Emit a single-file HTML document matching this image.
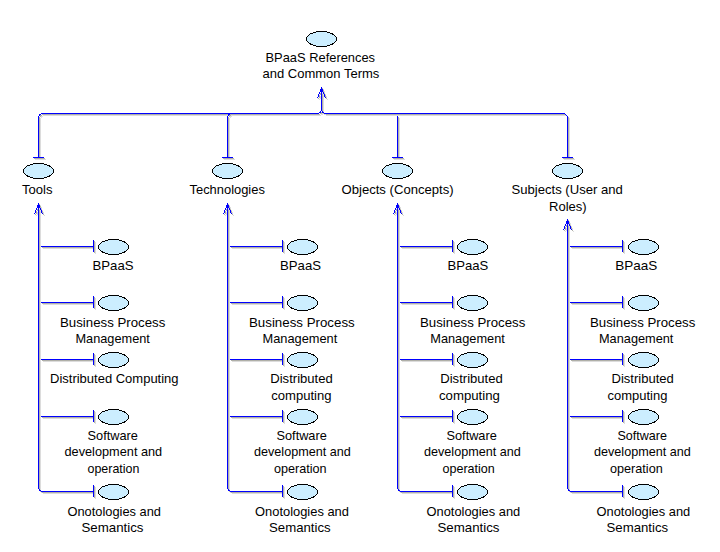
<!DOCTYPE html><html><head><meta charset="utf-8"><style>html,body{margin:0;padding:0;background:#fff;width:720px;height:552px;overflow:hidden}svg{display:block}</style></head><body>
<svg width="720" height="552" viewBox="0 0 720 552">
<rect width="720" height="552" fill="#fff"/>
<g shape-rendering="crispEdges">
<rect x="42" y="114" width="278" height="1" fill="#b0b0a8"/>
<rect x="43" y="115" width="278" height="1" fill="#dcdcdc"/>
<rect x="325" y="114" width="241" height="1" fill="#b0b0a8"/>
<rect x="326" y="115" width="241" height="1" fill="#dcdcdc"/>
<rect x="41" y="115" width="1" height="1" fill="#b0b0a8"/>
<rect x="42" y="116" width="1" height="1" fill="#dcdcdc"/>
<rect x="40" y="115" width="1" height="1" fill="#b0b0a8"/>
<rect x="41" y="116" width="1" height="1" fill="#dcdcdc"/>
<rect x="40" y="116" width="1" height="1" fill="#b0b0a8"/>
<rect x="41" y="117" width="1" height="1" fill="#dcdcdc"/>
<rect x="229" y="115" width="1" height="1" fill="#b0b0a8"/>
<rect x="230" y="116" width="1" height="1" fill="#dcdcdc"/>
<rect x="230" y="115" width="1" height="1" fill="#b0b0a8"/>
<rect x="231" y="116" width="1" height="1" fill="#dcdcdc"/>
<rect x="229" y="116" width="1" height="1" fill="#b0b0a8"/>
<rect x="230" y="117" width="1" height="1" fill="#dcdcdc"/>
<rect x="566" y="115" width="1" height="1" fill="#b0b0a8"/>
<rect x="567" y="116" width="1" height="1" fill="#dcdcdc"/>
<rect x="567" y="116" width="1" height="1" fill="#b0b0a8"/>
<rect x="568" y="117" width="1" height="1" fill="#dcdcdc"/>
<rect x="320" y="113" width="1" height="1" fill="#b0b0a8"/>
<rect x="321" y="114" width="1" height="1" fill="#dcdcdc"/>
<rect x="321" y="113" width="1" height="1" fill="#b0b0a8"/>
<rect x="322" y="114" width="1" height="1" fill="#dcdcdc"/>
<rect x="321" y="112" width="1" height="1" fill="#b0b0a8"/>
<rect x="322" y="113" width="1" height="1" fill="#dcdcdc"/>
<rect x="324" y="113" width="1" height="1" fill="#b0b0a8"/>
<rect x="325" y="114" width="1" height="1" fill="#dcdcdc"/>
<rect x="323" y="113" width="1" height="1" fill="#b0b0a8"/>
<rect x="324" y="114" width="1" height="1" fill="#dcdcdc"/>
<rect x="323" y="112" width="1" height="1" fill="#b0b0a8"/>
<rect x="324" y="113" width="1" height="1" fill="#dcdcdc"/>
<rect x="39" y="117" width="1" height="41" fill="#b0b0a8"/>
<rect x="40" y="118" width="1" height="41" fill="#dcdcdc"/>
<rect x="34" y="158" width="11" height="1" fill="#b0b0a8"/>
<rect x="35" y="159" width="11" height="1" fill="#dcdcdc"/>
<rect x="228" y="117" width="1" height="41" fill="#b0b0a8"/>
<rect x="229" y="118" width="1" height="41" fill="#dcdcdc"/>
<rect x="223" y="158" width="11" height="1" fill="#b0b0a8"/>
<rect x="224" y="159" width="11" height="1" fill="#dcdcdc"/>
<rect x="398" y="117" width="1" height="41" fill="#b0b0a8"/>
<rect x="399" y="118" width="1" height="41" fill="#dcdcdc"/>
<rect x="393" y="158" width="11" height="1" fill="#b0b0a8"/>
<rect x="394" y="159" width="11" height="1" fill="#dcdcdc"/>
<rect x="568" y="117" width="1" height="41" fill="#b0b0a8"/>
<rect x="569" y="118" width="1" height="41" fill="#dcdcdc"/>
<rect x="563" y="158" width="11" height="1" fill="#b0b0a8"/>
<rect x="564" y="159" width="11" height="1" fill="#dcdcdc"/>
<rect x="322" y="89" width="1" height="23" fill="#b0b0a8"/>
<rect x="323" y="90" width="1" height="23" fill="#dcdcdc"/>
<rect x="322" y="88" width="1" height="1" fill="#b0b0a8"/>
<rect x="323" y="89" width="1" height="1" fill="#dcdcdc"/>
<rect x="322" y="89" width="1" height="1" fill="#b0b0a8"/>
<rect x="323" y="90" width="1" height="1" fill="#dcdcdc"/>
<rect x="321" y="90" width="1" height="1" fill="#b0b0a8"/>
<rect x="322" y="91" width="1" height="1" fill="#dcdcdc"/>
<rect x="322" y="90" width="1" height="1" fill="#b0b0a8"/>
<rect x="323" y="91" width="1" height="1" fill="#dcdcdc"/>
<rect x="323" y="90" width="1" height="1" fill="#b0b0a8"/>
<rect x="324" y="91" width="1" height="1" fill="#dcdcdc"/>
<rect x="321" y="91" width="1" height="1" fill="#b0b0a8"/>
<rect x="322" y="92" width="1" height="1" fill="#dcdcdc"/>
<rect x="323" y="91" width="1" height="1" fill="#b0b0a8"/>
<rect x="324" y="92" width="1" height="1" fill="#dcdcdc"/>
<rect x="321" y="92" width="1" height="1" fill="#b0b0a8"/>
<rect x="322" y="93" width="1" height="1" fill="#dcdcdc"/>
<rect x="323" y="92" width="1" height="1" fill="#b0b0a8"/>
<rect x="324" y="93" width="1" height="1" fill="#dcdcdc"/>
<rect x="320" y="93" width="1" height="1" fill="#b0b0a8"/>
<rect x="321" y="94" width="1" height="1" fill="#dcdcdc"/>
<rect x="324" y="93" width="1" height="1" fill="#b0b0a8"/>
<rect x="325" y="94" width="1" height="1" fill="#dcdcdc"/>
<rect x="320" y="94" width="1" height="1" fill="#b0b0a8"/>
<rect x="321" y="95" width="1" height="1" fill="#dcdcdc"/>
<rect x="324" y="94" width="1" height="1" fill="#b0b0a8"/>
<rect x="325" y="95" width="1" height="1" fill="#dcdcdc"/>
<rect x="319" y="95" width="1" height="1" fill="#b0b0a8"/>
<rect x="320" y="96" width="1" height="1" fill="#dcdcdc"/>
<rect x="325" y="95" width="1" height="1" fill="#b0b0a8"/>
<rect x="326" y="96" width="1" height="1" fill="#dcdcdc"/>
<rect x="319" y="96" width="1" height="1" fill="#b0b0a8"/>
<rect x="320" y="97" width="1" height="1" fill="#dcdcdc"/>
<rect x="325" y="96" width="1" height="1" fill="#b0b0a8"/>
<rect x="326" y="97" width="1" height="1" fill="#dcdcdc"/>
<rect x="319" y="97" width="1" height="1" fill="#b0b0a8"/>
<rect x="320" y="98" width="1" height="1" fill="#dcdcdc"/>
<rect x="325" y="97" width="1" height="1" fill="#b0b0a8"/>
<rect x="326" y="98" width="1" height="1" fill="#dcdcdc"/>
<rect x="318" y="98" width="1" height="1" fill="#b0b0a8"/>
<rect x="319" y="99" width="1" height="1" fill="#dcdcdc"/>
<rect x="326" y="98" width="1" height="1" fill="#b0b0a8"/>
<rect x="327" y="99" width="1" height="1" fill="#dcdcdc"/>
<rect x="39" y="205" width="1" height="285" fill="#b0b0a8"/>
<rect x="40" y="206" width="1" height="285" fill="#dcdcdc"/>
<rect x="39" y="204" width="1" height="1" fill="#b0b0a8"/>
<rect x="40" y="205" width="1" height="1" fill="#dcdcdc"/>
<rect x="39" y="205" width="1" height="1" fill="#b0b0a8"/>
<rect x="40" y="206" width="1" height="1" fill="#dcdcdc"/>
<rect x="38" y="206" width="1" height="1" fill="#b0b0a8"/>
<rect x="39" y="207" width="1" height="1" fill="#dcdcdc"/>
<rect x="39" y="206" width="1" height="1" fill="#b0b0a8"/>
<rect x="40" y="207" width="1" height="1" fill="#dcdcdc"/>
<rect x="40" y="206" width="1" height="1" fill="#b0b0a8"/>
<rect x="41" y="207" width="1" height="1" fill="#dcdcdc"/>
<rect x="38" y="207" width="1" height="1" fill="#b0b0a8"/>
<rect x="39" y="208" width="1" height="1" fill="#dcdcdc"/>
<rect x="40" y="207" width="1" height="1" fill="#b0b0a8"/>
<rect x="41" y="208" width="1" height="1" fill="#dcdcdc"/>
<rect x="38" y="208" width="1" height="1" fill="#b0b0a8"/>
<rect x="39" y="209" width="1" height="1" fill="#dcdcdc"/>
<rect x="40" y="208" width="1" height="1" fill="#b0b0a8"/>
<rect x="41" y="209" width="1" height="1" fill="#dcdcdc"/>
<rect x="37" y="209" width="1" height="1" fill="#b0b0a8"/>
<rect x="38" y="210" width="1" height="1" fill="#dcdcdc"/>
<rect x="41" y="209" width="1" height="1" fill="#b0b0a8"/>
<rect x="42" y="210" width="1" height="1" fill="#dcdcdc"/>
<rect x="37" y="210" width="1" height="1" fill="#b0b0a8"/>
<rect x="38" y="211" width="1" height="1" fill="#dcdcdc"/>
<rect x="41" y="210" width="1" height="1" fill="#b0b0a8"/>
<rect x="42" y="211" width="1" height="1" fill="#dcdcdc"/>
<rect x="36" y="211" width="1" height="1" fill="#b0b0a8"/>
<rect x="37" y="212" width="1" height="1" fill="#dcdcdc"/>
<rect x="42" y="211" width="1" height="1" fill="#b0b0a8"/>
<rect x="43" y="212" width="1" height="1" fill="#dcdcdc"/>
<rect x="36" y="212" width="1" height="1" fill="#b0b0a8"/>
<rect x="37" y="213" width="1" height="1" fill="#dcdcdc"/>
<rect x="42" y="212" width="1" height="1" fill="#b0b0a8"/>
<rect x="43" y="213" width="1" height="1" fill="#dcdcdc"/>
<rect x="36" y="213" width="1" height="1" fill="#b0b0a8"/>
<rect x="37" y="214" width="1" height="1" fill="#dcdcdc"/>
<rect x="42" y="213" width="1" height="1" fill="#b0b0a8"/>
<rect x="43" y="214" width="1" height="1" fill="#dcdcdc"/>
<rect x="35" y="214" width="1" height="1" fill="#b0b0a8"/>
<rect x="36" y="215" width="1" height="1" fill="#dcdcdc"/>
<rect x="43" y="214" width="1" height="1" fill="#b0b0a8"/>
<rect x="44" y="215" width="1" height="1" fill="#dcdcdc"/>
<rect x="40" y="490" width="1" height="1" fill="#b0b0a8"/>
<rect x="41" y="491" width="1" height="1" fill="#dcdcdc"/>
<rect x="40" y="491" width="1" height="1" fill="#b0b0a8"/>
<rect x="41" y="492" width="1" height="1" fill="#dcdcdc"/>
<rect x="41" y="491" width="1" height="1" fill="#b0b0a8"/>
<rect x="42" y="492" width="1" height="1" fill="#dcdcdc"/>
<rect x="42" y="247" width="53" height="1" fill="#b0b0a8"/>
<rect x="43" y="248" width="53" height="1" fill="#dcdcdc"/>
<rect x="94" y="241" width="1" height="12" fill="#b0b0a8"/>
<rect x="95" y="242" width="1" height="12" fill="#dcdcdc"/>
<rect x="42" y="303" width="53" height="1" fill="#b0b0a8"/>
<rect x="43" y="304" width="53" height="1" fill="#dcdcdc"/>
<rect x="94" y="297" width="1" height="12" fill="#b0b0a8"/>
<rect x="95" y="298" width="1" height="12" fill="#dcdcdc"/>
<rect x="42" y="360" width="53" height="1" fill="#b0b0a8"/>
<rect x="43" y="361" width="53" height="1" fill="#dcdcdc"/>
<rect x="94" y="354" width="1" height="12" fill="#b0b0a8"/>
<rect x="95" y="355" width="1" height="12" fill="#dcdcdc"/>
<rect x="42" y="417" width="53" height="1" fill="#b0b0a8"/>
<rect x="43" y="418" width="53" height="1" fill="#dcdcdc"/>
<rect x="94" y="411" width="1" height="12" fill="#b0b0a8"/>
<rect x="95" y="412" width="1" height="12" fill="#dcdcdc"/>
<rect x="42" y="492" width="53" height="1" fill="#b0b0a8"/>
<rect x="43" y="493" width="53" height="1" fill="#dcdcdc"/>
<rect x="94" y="486" width="1" height="12" fill="#b0b0a8"/>
<rect x="95" y="487" width="1" height="12" fill="#dcdcdc"/>
<rect x="228" y="205" width="1" height="285" fill="#b0b0a8"/>
<rect x="229" y="206" width="1" height="285" fill="#dcdcdc"/>
<rect x="228" y="204" width="1" height="1" fill="#b0b0a8"/>
<rect x="229" y="205" width="1" height="1" fill="#dcdcdc"/>
<rect x="228" y="205" width="1" height="1" fill="#b0b0a8"/>
<rect x="229" y="206" width="1" height="1" fill="#dcdcdc"/>
<rect x="227" y="206" width="1" height="1" fill="#b0b0a8"/>
<rect x="228" y="207" width="1" height="1" fill="#dcdcdc"/>
<rect x="228" y="206" width="1" height="1" fill="#b0b0a8"/>
<rect x="229" y="207" width="1" height="1" fill="#dcdcdc"/>
<rect x="229" y="206" width="1" height="1" fill="#b0b0a8"/>
<rect x="230" y="207" width="1" height="1" fill="#dcdcdc"/>
<rect x="227" y="207" width="1" height="1" fill="#b0b0a8"/>
<rect x="228" y="208" width="1" height="1" fill="#dcdcdc"/>
<rect x="229" y="207" width="1" height="1" fill="#b0b0a8"/>
<rect x="230" y="208" width="1" height="1" fill="#dcdcdc"/>
<rect x="227" y="208" width="1" height="1" fill="#b0b0a8"/>
<rect x="228" y="209" width="1" height="1" fill="#dcdcdc"/>
<rect x="229" y="208" width="1" height="1" fill="#b0b0a8"/>
<rect x="230" y="209" width="1" height="1" fill="#dcdcdc"/>
<rect x="226" y="209" width="1" height="1" fill="#b0b0a8"/>
<rect x="227" y="210" width="1" height="1" fill="#dcdcdc"/>
<rect x="230" y="209" width="1" height="1" fill="#b0b0a8"/>
<rect x="231" y="210" width="1" height="1" fill="#dcdcdc"/>
<rect x="226" y="210" width="1" height="1" fill="#b0b0a8"/>
<rect x="227" y="211" width="1" height="1" fill="#dcdcdc"/>
<rect x="230" y="210" width="1" height="1" fill="#b0b0a8"/>
<rect x="231" y="211" width="1" height="1" fill="#dcdcdc"/>
<rect x="225" y="211" width="1" height="1" fill="#b0b0a8"/>
<rect x="226" y="212" width="1" height="1" fill="#dcdcdc"/>
<rect x="231" y="211" width="1" height="1" fill="#b0b0a8"/>
<rect x="232" y="212" width="1" height="1" fill="#dcdcdc"/>
<rect x="225" y="212" width="1" height="1" fill="#b0b0a8"/>
<rect x="226" y="213" width="1" height="1" fill="#dcdcdc"/>
<rect x="231" y="212" width="1" height="1" fill="#b0b0a8"/>
<rect x="232" y="213" width="1" height="1" fill="#dcdcdc"/>
<rect x="225" y="213" width="1" height="1" fill="#b0b0a8"/>
<rect x="226" y="214" width="1" height="1" fill="#dcdcdc"/>
<rect x="231" y="213" width="1" height="1" fill="#b0b0a8"/>
<rect x="232" y="214" width="1" height="1" fill="#dcdcdc"/>
<rect x="224" y="214" width="1" height="1" fill="#b0b0a8"/>
<rect x="225" y="215" width="1" height="1" fill="#dcdcdc"/>
<rect x="232" y="214" width="1" height="1" fill="#b0b0a8"/>
<rect x="233" y="215" width="1" height="1" fill="#dcdcdc"/>
<rect x="229" y="490" width="1" height="1" fill="#b0b0a8"/>
<rect x="230" y="491" width="1" height="1" fill="#dcdcdc"/>
<rect x="229" y="491" width="1" height="1" fill="#b0b0a8"/>
<rect x="230" y="492" width="1" height="1" fill="#dcdcdc"/>
<rect x="230" y="491" width="1" height="1" fill="#b0b0a8"/>
<rect x="231" y="492" width="1" height="1" fill="#dcdcdc"/>
<rect x="231" y="247" width="53" height="1" fill="#b0b0a8"/>
<rect x="232" y="248" width="53" height="1" fill="#dcdcdc"/>
<rect x="283" y="241" width="1" height="12" fill="#b0b0a8"/>
<rect x="284" y="242" width="1" height="12" fill="#dcdcdc"/>
<rect x="231" y="303" width="53" height="1" fill="#b0b0a8"/>
<rect x="232" y="304" width="53" height="1" fill="#dcdcdc"/>
<rect x="283" y="297" width="1" height="12" fill="#b0b0a8"/>
<rect x="284" y="298" width="1" height="12" fill="#dcdcdc"/>
<rect x="231" y="360" width="53" height="1" fill="#b0b0a8"/>
<rect x="232" y="361" width="53" height="1" fill="#dcdcdc"/>
<rect x="283" y="354" width="1" height="12" fill="#b0b0a8"/>
<rect x="284" y="355" width="1" height="12" fill="#dcdcdc"/>
<rect x="231" y="417" width="53" height="1" fill="#b0b0a8"/>
<rect x="232" y="418" width="53" height="1" fill="#dcdcdc"/>
<rect x="283" y="411" width="1" height="12" fill="#b0b0a8"/>
<rect x="284" y="412" width="1" height="12" fill="#dcdcdc"/>
<rect x="231" y="492" width="53" height="1" fill="#b0b0a8"/>
<rect x="232" y="493" width="53" height="1" fill="#dcdcdc"/>
<rect x="283" y="486" width="1" height="12" fill="#b0b0a8"/>
<rect x="284" y="487" width="1" height="12" fill="#dcdcdc"/>
<rect x="398" y="205" width="1" height="285" fill="#b0b0a8"/>
<rect x="399" y="206" width="1" height="285" fill="#dcdcdc"/>
<rect x="398" y="204" width="1" height="1" fill="#b0b0a8"/>
<rect x="399" y="205" width="1" height="1" fill="#dcdcdc"/>
<rect x="398" y="205" width="1" height="1" fill="#b0b0a8"/>
<rect x="399" y="206" width="1" height="1" fill="#dcdcdc"/>
<rect x="397" y="206" width="1" height="1" fill="#b0b0a8"/>
<rect x="398" y="207" width="1" height="1" fill="#dcdcdc"/>
<rect x="398" y="206" width="1" height="1" fill="#b0b0a8"/>
<rect x="399" y="207" width="1" height="1" fill="#dcdcdc"/>
<rect x="399" y="206" width="1" height="1" fill="#b0b0a8"/>
<rect x="400" y="207" width="1" height="1" fill="#dcdcdc"/>
<rect x="397" y="207" width="1" height="1" fill="#b0b0a8"/>
<rect x="398" y="208" width="1" height="1" fill="#dcdcdc"/>
<rect x="399" y="207" width="1" height="1" fill="#b0b0a8"/>
<rect x="400" y="208" width="1" height="1" fill="#dcdcdc"/>
<rect x="397" y="208" width="1" height="1" fill="#b0b0a8"/>
<rect x="398" y="209" width="1" height="1" fill="#dcdcdc"/>
<rect x="399" y="208" width="1" height="1" fill="#b0b0a8"/>
<rect x="400" y="209" width="1" height="1" fill="#dcdcdc"/>
<rect x="396" y="209" width="1" height="1" fill="#b0b0a8"/>
<rect x="397" y="210" width="1" height="1" fill="#dcdcdc"/>
<rect x="400" y="209" width="1" height="1" fill="#b0b0a8"/>
<rect x="401" y="210" width="1" height="1" fill="#dcdcdc"/>
<rect x="396" y="210" width="1" height="1" fill="#b0b0a8"/>
<rect x="397" y="211" width="1" height="1" fill="#dcdcdc"/>
<rect x="400" y="210" width="1" height="1" fill="#b0b0a8"/>
<rect x="401" y="211" width="1" height="1" fill="#dcdcdc"/>
<rect x="395" y="211" width="1" height="1" fill="#b0b0a8"/>
<rect x="396" y="212" width="1" height="1" fill="#dcdcdc"/>
<rect x="401" y="211" width="1" height="1" fill="#b0b0a8"/>
<rect x="402" y="212" width="1" height="1" fill="#dcdcdc"/>
<rect x="395" y="212" width="1" height="1" fill="#b0b0a8"/>
<rect x="396" y="213" width="1" height="1" fill="#dcdcdc"/>
<rect x="401" y="212" width="1" height="1" fill="#b0b0a8"/>
<rect x="402" y="213" width="1" height="1" fill="#dcdcdc"/>
<rect x="395" y="213" width="1" height="1" fill="#b0b0a8"/>
<rect x="396" y="214" width="1" height="1" fill="#dcdcdc"/>
<rect x="401" y="213" width="1" height="1" fill="#b0b0a8"/>
<rect x="402" y="214" width="1" height="1" fill="#dcdcdc"/>
<rect x="394" y="214" width="1" height="1" fill="#b0b0a8"/>
<rect x="395" y="215" width="1" height="1" fill="#dcdcdc"/>
<rect x="402" y="214" width="1" height="1" fill="#b0b0a8"/>
<rect x="403" y="215" width="1" height="1" fill="#dcdcdc"/>
<rect x="399" y="490" width="1" height="1" fill="#b0b0a8"/>
<rect x="400" y="491" width="1" height="1" fill="#dcdcdc"/>
<rect x="399" y="491" width="1" height="1" fill="#b0b0a8"/>
<rect x="400" y="492" width="1" height="1" fill="#dcdcdc"/>
<rect x="400" y="491" width="1" height="1" fill="#b0b0a8"/>
<rect x="401" y="492" width="1" height="1" fill="#dcdcdc"/>
<rect x="401" y="247" width="53" height="1" fill="#b0b0a8"/>
<rect x="402" y="248" width="53" height="1" fill="#dcdcdc"/>
<rect x="453" y="241" width="1" height="12" fill="#b0b0a8"/>
<rect x="454" y="242" width="1" height="12" fill="#dcdcdc"/>
<rect x="401" y="303" width="53" height="1" fill="#b0b0a8"/>
<rect x="402" y="304" width="53" height="1" fill="#dcdcdc"/>
<rect x="453" y="297" width="1" height="12" fill="#b0b0a8"/>
<rect x="454" y="298" width="1" height="12" fill="#dcdcdc"/>
<rect x="401" y="360" width="53" height="1" fill="#b0b0a8"/>
<rect x="402" y="361" width="53" height="1" fill="#dcdcdc"/>
<rect x="453" y="354" width="1" height="12" fill="#b0b0a8"/>
<rect x="454" y="355" width="1" height="12" fill="#dcdcdc"/>
<rect x="401" y="417" width="53" height="1" fill="#b0b0a8"/>
<rect x="402" y="418" width="53" height="1" fill="#dcdcdc"/>
<rect x="453" y="411" width="1" height="12" fill="#b0b0a8"/>
<rect x="454" y="412" width="1" height="12" fill="#dcdcdc"/>
<rect x="401" y="492" width="53" height="1" fill="#b0b0a8"/>
<rect x="402" y="493" width="53" height="1" fill="#dcdcdc"/>
<rect x="453" y="486" width="1" height="12" fill="#b0b0a8"/>
<rect x="454" y="487" width="1" height="12" fill="#dcdcdc"/>
<rect x="568" y="221" width="1" height="269" fill="#b0b0a8"/>
<rect x="569" y="222" width="1" height="269" fill="#dcdcdc"/>
<rect x="568" y="220" width="1" height="1" fill="#b0b0a8"/>
<rect x="569" y="221" width="1" height="1" fill="#dcdcdc"/>
<rect x="568" y="221" width="1" height="1" fill="#b0b0a8"/>
<rect x="569" y="222" width="1" height="1" fill="#dcdcdc"/>
<rect x="567" y="222" width="1" height="1" fill="#b0b0a8"/>
<rect x="568" y="223" width="1" height="1" fill="#dcdcdc"/>
<rect x="568" y="222" width="1" height="1" fill="#b0b0a8"/>
<rect x="569" y="223" width="1" height="1" fill="#dcdcdc"/>
<rect x="569" y="222" width="1" height="1" fill="#b0b0a8"/>
<rect x="570" y="223" width="1" height="1" fill="#dcdcdc"/>
<rect x="567" y="223" width="1" height="1" fill="#b0b0a8"/>
<rect x="568" y="224" width="1" height="1" fill="#dcdcdc"/>
<rect x="569" y="223" width="1" height="1" fill="#b0b0a8"/>
<rect x="570" y="224" width="1" height="1" fill="#dcdcdc"/>
<rect x="567" y="224" width="1" height="1" fill="#b0b0a8"/>
<rect x="568" y="225" width="1" height="1" fill="#dcdcdc"/>
<rect x="569" y="224" width="1" height="1" fill="#b0b0a8"/>
<rect x="570" y="225" width="1" height="1" fill="#dcdcdc"/>
<rect x="566" y="225" width="1" height="1" fill="#b0b0a8"/>
<rect x="567" y="226" width="1" height="1" fill="#dcdcdc"/>
<rect x="570" y="225" width="1" height="1" fill="#b0b0a8"/>
<rect x="571" y="226" width="1" height="1" fill="#dcdcdc"/>
<rect x="566" y="226" width="1" height="1" fill="#b0b0a8"/>
<rect x="567" y="227" width="1" height="1" fill="#dcdcdc"/>
<rect x="570" y="226" width="1" height="1" fill="#b0b0a8"/>
<rect x="571" y="227" width="1" height="1" fill="#dcdcdc"/>
<rect x="565" y="227" width="1" height="1" fill="#b0b0a8"/>
<rect x="566" y="228" width="1" height="1" fill="#dcdcdc"/>
<rect x="571" y="227" width="1" height="1" fill="#b0b0a8"/>
<rect x="572" y="228" width="1" height="1" fill="#dcdcdc"/>
<rect x="565" y="228" width="1" height="1" fill="#b0b0a8"/>
<rect x="566" y="229" width="1" height="1" fill="#dcdcdc"/>
<rect x="571" y="228" width="1" height="1" fill="#b0b0a8"/>
<rect x="572" y="229" width="1" height="1" fill="#dcdcdc"/>
<rect x="565" y="229" width="1" height="1" fill="#b0b0a8"/>
<rect x="566" y="230" width="1" height="1" fill="#dcdcdc"/>
<rect x="571" y="229" width="1" height="1" fill="#b0b0a8"/>
<rect x="572" y="230" width="1" height="1" fill="#dcdcdc"/>
<rect x="564" y="230" width="1" height="1" fill="#b0b0a8"/>
<rect x="565" y="231" width="1" height="1" fill="#dcdcdc"/>
<rect x="572" y="230" width="1" height="1" fill="#b0b0a8"/>
<rect x="573" y="231" width="1" height="1" fill="#dcdcdc"/>
<rect x="569" y="490" width="1" height="1" fill="#b0b0a8"/>
<rect x="570" y="491" width="1" height="1" fill="#dcdcdc"/>
<rect x="569" y="491" width="1" height="1" fill="#b0b0a8"/>
<rect x="570" y="492" width="1" height="1" fill="#dcdcdc"/>
<rect x="570" y="491" width="1" height="1" fill="#b0b0a8"/>
<rect x="571" y="492" width="1" height="1" fill="#dcdcdc"/>
<rect x="571" y="247" width="53" height="1" fill="#b0b0a8"/>
<rect x="572" y="248" width="53" height="1" fill="#dcdcdc"/>
<rect x="623" y="241" width="1" height="12" fill="#b0b0a8"/>
<rect x="624" y="242" width="1" height="12" fill="#dcdcdc"/>
<rect x="571" y="303" width="53" height="1" fill="#b0b0a8"/>
<rect x="572" y="304" width="53" height="1" fill="#dcdcdc"/>
<rect x="623" y="297" width="1" height="12" fill="#b0b0a8"/>
<rect x="624" y="298" width="1" height="12" fill="#dcdcdc"/>
<rect x="571" y="360" width="53" height="1" fill="#b0b0a8"/>
<rect x="572" y="361" width="53" height="1" fill="#dcdcdc"/>
<rect x="623" y="354" width="1" height="12" fill="#b0b0a8"/>
<rect x="624" y="355" width="1" height="12" fill="#dcdcdc"/>
<rect x="571" y="417" width="53" height="1" fill="#b0b0a8"/>
<rect x="572" y="418" width="53" height="1" fill="#dcdcdc"/>
<rect x="623" y="411" width="1" height="12" fill="#b0b0a8"/>
<rect x="624" y="412" width="1" height="12" fill="#dcdcdc"/>
<rect x="571" y="492" width="53" height="1" fill="#b0b0a8"/>
<rect x="572" y="493" width="53" height="1" fill="#dcdcdc"/>
<rect x="623" y="486" width="1" height="12" fill="#b0b0a8"/>
<rect x="624" y="487" width="1" height="12" fill="#dcdcdc"/>
<rect x="41" y="113" width="278" height="1" fill="#0000ff"/>
<rect x="324" y="113" width="241" height="1" fill="#0000ff"/>
<rect x="40" y="114" width="1" height="1" fill="#0000ff"/>
<rect x="39" y="114" width="1" height="1" fill="#0000ff"/>
<rect x="39" y="115" width="1" height="1" fill="#0000ff"/>
<rect x="228" y="114" width="1" height="1" fill="#0000ff"/>
<rect x="229" y="114" width="1" height="1" fill="#0000ff"/>
<rect x="228" y="115" width="1" height="1" fill="#0000ff"/>
<rect x="565" y="114" width="1" height="1" fill="#0000ff"/>
<rect x="566" y="115" width="1" height="1" fill="#0000ff"/>
<rect x="319" y="112" width="1" height="1" fill="#0000ff"/>
<rect x="320" y="112" width="1" height="1" fill="#0000ff"/>
<rect x="320" y="111" width="1" height="1" fill="#0000ff"/>
<rect x="323" y="112" width="1" height="1" fill="#0000ff"/>
<rect x="322" y="112" width="1" height="1" fill="#0000ff"/>
<rect x="322" y="111" width="1" height="1" fill="#0000ff"/>
<rect x="38" y="116" width="1" height="41" fill="#0000ff"/>
<rect x="33" y="157" width="11" height="1" fill="#0000ff"/>
<rect x="227" y="116" width="1" height="41" fill="#0000ff"/>
<rect x="222" y="157" width="11" height="1" fill="#0000ff"/>
<rect x="397" y="116" width="1" height="41" fill="#0000ff"/>
<rect x="392" y="157" width="11" height="1" fill="#0000ff"/>
<rect x="567" y="116" width="1" height="41" fill="#0000ff"/>
<rect x="562" y="157" width="11" height="1" fill="#0000ff"/>
<rect x="321" y="88" width="1" height="23" fill="#0000ff"/>
<rect x="321" y="87" width="1" height="1" fill="#0000ff"/>
<rect x="321" y="88" width="1" height="1" fill="#0000ff"/>
<rect x="320" y="89" width="1" height="1" fill="#0000ff"/>
<rect x="321" y="89" width="1" height="1" fill="#0000ff"/>
<rect x="322" y="89" width="1" height="1" fill="#0000ff"/>
<rect x="320" y="90" width="1" height="1" fill="#0000ff"/>
<rect x="322" y="90" width="1" height="1" fill="#0000ff"/>
<rect x="320" y="91" width="1" height="1" fill="#0000ff"/>
<rect x="322" y="91" width="1" height="1" fill="#0000ff"/>
<rect x="319" y="92" width="1" height="1" fill="#0000ff"/>
<rect x="323" y="92" width="1" height="1" fill="#0000ff"/>
<rect x="319" y="93" width="1" height="1" fill="#0000ff"/>
<rect x="323" y="93" width="1" height="1" fill="#0000ff"/>
<rect x="318" y="94" width="1" height="1" fill="#0000ff"/>
<rect x="324" y="94" width="1" height="1" fill="#0000ff"/>
<rect x="318" y="95" width="1" height="1" fill="#0000ff"/>
<rect x="324" y="95" width="1" height="1" fill="#0000ff"/>
<rect x="318" y="96" width="1" height="1" fill="#0000ff"/>
<rect x="324" y="96" width="1" height="1" fill="#0000ff"/>
<rect x="317" y="97" width="1" height="1" fill="#0000ff"/>
<rect x="325" y="97" width="1" height="1" fill="#0000ff"/>
<rect x="38" y="204" width="1" height="285" fill="#0000ff"/>
<rect x="38" y="203" width="1" height="1" fill="#0000ff"/>
<rect x="38" y="204" width="1" height="1" fill="#0000ff"/>
<rect x="37" y="205" width="1" height="1" fill="#0000ff"/>
<rect x="38" y="205" width="1" height="1" fill="#0000ff"/>
<rect x="39" y="205" width="1" height="1" fill="#0000ff"/>
<rect x="37" y="206" width="1" height="1" fill="#0000ff"/>
<rect x="39" y="206" width="1" height="1" fill="#0000ff"/>
<rect x="37" y="207" width="1" height="1" fill="#0000ff"/>
<rect x="39" y="207" width="1" height="1" fill="#0000ff"/>
<rect x="36" y="208" width="1" height="1" fill="#0000ff"/>
<rect x="40" y="208" width="1" height="1" fill="#0000ff"/>
<rect x="36" y="209" width="1" height="1" fill="#0000ff"/>
<rect x="40" y="209" width="1" height="1" fill="#0000ff"/>
<rect x="35" y="210" width="1" height="1" fill="#0000ff"/>
<rect x="41" y="210" width="1" height="1" fill="#0000ff"/>
<rect x="35" y="211" width="1" height="1" fill="#0000ff"/>
<rect x="41" y="211" width="1" height="1" fill="#0000ff"/>
<rect x="35" y="212" width="1" height="1" fill="#0000ff"/>
<rect x="41" y="212" width="1" height="1" fill="#0000ff"/>
<rect x="34" y="213" width="1" height="1" fill="#0000ff"/>
<rect x="42" y="213" width="1" height="1" fill="#0000ff"/>
<rect x="39" y="489" width="1" height="1" fill="#0000ff"/>
<rect x="39" y="490" width="1" height="1" fill="#0000ff"/>
<rect x="40" y="490" width="1" height="1" fill="#0000ff"/>
<rect x="41" y="246" width="53" height="1" fill="#0000ff"/>
<rect x="93" y="240" width="1" height="12" fill="#0000ff"/>
<rect x="41" y="302" width="53" height="1" fill="#0000ff"/>
<rect x="93" y="296" width="1" height="12" fill="#0000ff"/>
<rect x="41" y="359" width="53" height="1" fill="#0000ff"/>
<rect x="93" y="353" width="1" height="12" fill="#0000ff"/>
<rect x="41" y="416" width="53" height="1" fill="#0000ff"/>
<rect x="93" y="410" width="1" height="12" fill="#0000ff"/>
<rect x="41" y="491" width="53" height="1" fill="#0000ff"/>
<rect x="93" y="485" width="1" height="12" fill="#0000ff"/>
<rect x="227" y="204" width="1" height="285" fill="#0000ff"/>
<rect x="227" y="203" width="1" height="1" fill="#0000ff"/>
<rect x="227" y="204" width="1" height="1" fill="#0000ff"/>
<rect x="226" y="205" width="1" height="1" fill="#0000ff"/>
<rect x="227" y="205" width="1" height="1" fill="#0000ff"/>
<rect x="228" y="205" width="1" height="1" fill="#0000ff"/>
<rect x="226" y="206" width="1" height="1" fill="#0000ff"/>
<rect x="228" y="206" width="1" height="1" fill="#0000ff"/>
<rect x="226" y="207" width="1" height="1" fill="#0000ff"/>
<rect x="228" y="207" width="1" height="1" fill="#0000ff"/>
<rect x="225" y="208" width="1" height="1" fill="#0000ff"/>
<rect x="229" y="208" width="1" height="1" fill="#0000ff"/>
<rect x="225" y="209" width="1" height="1" fill="#0000ff"/>
<rect x="229" y="209" width="1" height="1" fill="#0000ff"/>
<rect x="224" y="210" width="1" height="1" fill="#0000ff"/>
<rect x="230" y="210" width="1" height="1" fill="#0000ff"/>
<rect x="224" y="211" width="1" height="1" fill="#0000ff"/>
<rect x="230" y="211" width="1" height="1" fill="#0000ff"/>
<rect x="224" y="212" width="1" height="1" fill="#0000ff"/>
<rect x="230" y="212" width="1" height="1" fill="#0000ff"/>
<rect x="223" y="213" width="1" height="1" fill="#0000ff"/>
<rect x="231" y="213" width="1" height="1" fill="#0000ff"/>
<rect x="228" y="489" width="1" height="1" fill="#0000ff"/>
<rect x="228" y="490" width="1" height="1" fill="#0000ff"/>
<rect x="229" y="490" width="1" height="1" fill="#0000ff"/>
<rect x="230" y="246" width="53" height="1" fill="#0000ff"/>
<rect x="282" y="240" width="1" height="12" fill="#0000ff"/>
<rect x="230" y="302" width="53" height="1" fill="#0000ff"/>
<rect x="282" y="296" width="1" height="12" fill="#0000ff"/>
<rect x="230" y="359" width="53" height="1" fill="#0000ff"/>
<rect x="282" y="353" width="1" height="12" fill="#0000ff"/>
<rect x="230" y="416" width="53" height="1" fill="#0000ff"/>
<rect x="282" y="410" width="1" height="12" fill="#0000ff"/>
<rect x="230" y="491" width="53" height="1" fill="#0000ff"/>
<rect x="282" y="485" width="1" height="12" fill="#0000ff"/>
<rect x="397" y="204" width="1" height="285" fill="#0000ff"/>
<rect x="397" y="203" width="1" height="1" fill="#0000ff"/>
<rect x="397" y="204" width="1" height="1" fill="#0000ff"/>
<rect x="396" y="205" width="1" height="1" fill="#0000ff"/>
<rect x="397" y="205" width="1" height="1" fill="#0000ff"/>
<rect x="398" y="205" width="1" height="1" fill="#0000ff"/>
<rect x="396" y="206" width="1" height="1" fill="#0000ff"/>
<rect x="398" y="206" width="1" height="1" fill="#0000ff"/>
<rect x="396" y="207" width="1" height="1" fill="#0000ff"/>
<rect x="398" y="207" width="1" height="1" fill="#0000ff"/>
<rect x="395" y="208" width="1" height="1" fill="#0000ff"/>
<rect x="399" y="208" width="1" height="1" fill="#0000ff"/>
<rect x="395" y="209" width="1" height="1" fill="#0000ff"/>
<rect x="399" y="209" width="1" height="1" fill="#0000ff"/>
<rect x="394" y="210" width="1" height="1" fill="#0000ff"/>
<rect x="400" y="210" width="1" height="1" fill="#0000ff"/>
<rect x="394" y="211" width="1" height="1" fill="#0000ff"/>
<rect x="400" y="211" width="1" height="1" fill="#0000ff"/>
<rect x="394" y="212" width="1" height="1" fill="#0000ff"/>
<rect x="400" y="212" width="1" height="1" fill="#0000ff"/>
<rect x="393" y="213" width="1" height="1" fill="#0000ff"/>
<rect x="401" y="213" width="1" height="1" fill="#0000ff"/>
<rect x="398" y="489" width="1" height="1" fill="#0000ff"/>
<rect x="398" y="490" width="1" height="1" fill="#0000ff"/>
<rect x="399" y="490" width="1" height="1" fill="#0000ff"/>
<rect x="400" y="246" width="53" height="1" fill="#0000ff"/>
<rect x="452" y="240" width="1" height="12" fill="#0000ff"/>
<rect x="400" y="302" width="53" height="1" fill="#0000ff"/>
<rect x="452" y="296" width="1" height="12" fill="#0000ff"/>
<rect x="400" y="359" width="53" height="1" fill="#0000ff"/>
<rect x="452" y="353" width="1" height="12" fill="#0000ff"/>
<rect x="400" y="416" width="53" height="1" fill="#0000ff"/>
<rect x="452" y="410" width="1" height="12" fill="#0000ff"/>
<rect x="400" y="491" width="53" height="1" fill="#0000ff"/>
<rect x="452" y="485" width="1" height="12" fill="#0000ff"/>
<rect x="567" y="220" width="1" height="269" fill="#0000ff"/>
<rect x="567" y="219" width="1" height="1" fill="#0000ff"/>
<rect x="567" y="220" width="1" height="1" fill="#0000ff"/>
<rect x="566" y="221" width="1" height="1" fill="#0000ff"/>
<rect x="567" y="221" width="1" height="1" fill="#0000ff"/>
<rect x="568" y="221" width="1" height="1" fill="#0000ff"/>
<rect x="566" y="222" width="1" height="1" fill="#0000ff"/>
<rect x="568" y="222" width="1" height="1" fill="#0000ff"/>
<rect x="566" y="223" width="1" height="1" fill="#0000ff"/>
<rect x="568" y="223" width="1" height="1" fill="#0000ff"/>
<rect x="565" y="224" width="1" height="1" fill="#0000ff"/>
<rect x="569" y="224" width="1" height="1" fill="#0000ff"/>
<rect x="565" y="225" width="1" height="1" fill="#0000ff"/>
<rect x="569" y="225" width="1" height="1" fill="#0000ff"/>
<rect x="564" y="226" width="1" height="1" fill="#0000ff"/>
<rect x="570" y="226" width="1" height="1" fill="#0000ff"/>
<rect x="564" y="227" width="1" height="1" fill="#0000ff"/>
<rect x="570" y="227" width="1" height="1" fill="#0000ff"/>
<rect x="564" y="228" width="1" height="1" fill="#0000ff"/>
<rect x="570" y="228" width="1" height="1" fill="#0000ff"/>
<rect x="563" y="229" width="1" height="1" fill="#0000ff"/>
<rect x="571" y="229" width="1" height="1" fill="#0000ff"/>
<rect x="568" y="489" width="1" height="1" fill="#0000ff"/>
<rect x="568" y="490" width="1" height="1" fill="#0000ff"/>
<rect x="569" y="490" width="1" height="1" fill="#0000ff"/>
<rect x="570" y="246" width="53" height="1" fill="#0000ff"/>
<rect x="622" y="240" width="1" height="12" fill="#0000ff"/>
<rect x="570" y="302" width="53" height="1" fill="#0000ff"/>
<rect x="622" y="296" width="1" height="12" fill="#0000ff"/>
<rect x="570" y="359" width="53" height="1" fill="#0000ff"/>
<rect x="622" y="353" width="1" height="12" fill="#0000ff"/>
<rect x="570" y="416" width="53" height="1" fill="#0000ff"/>
<rect x="622" y="410" width="1" height="12" fill="#0000ff"/>
<rect x="570" y="491" width="53" height="1" fill="#0000ff"/>
<rect x="622" y="485" width="1" height="12" fill="#0000ff"/>
</g>
<ellipse shape-rendering="crispEdges" cx="321.5" cy="39" rx="15" ry="7.5" fill="#cceeff" stroke="#000" stroke-width="1"/>
<ellipse shape-rendering="crispEdges" cx="38.5" cy="171" rx="15" ry="7.5" fill="#cceeff" stroke="#000" stroke-width="1"/>
<ellipse shape-rendering="crispEdges" cx="113.5" cy="247" rx="15" ry="7.5" fill="#cceeff" stroke="#000" stroke-width="1"/>
<ellipse shape-rendering="crispEdges" cx="113.5" cy="303" rx="15" ry="7.5" fill="#cceeff" stroke="#000" stroke-width="1"/>
<ellipse shape-rendering="crispEdges" cx="113.5" cy="360" rx="15" ry="7.5" fill="#cceeff" stroke="#000" stroke-width="1"/>
<ellipse shape-rendering="crispEdges" cx="113.5" cy="417" rx="15" ry="7.5" fill="#cceeff" stroke="#000" stroke-width="1"/>
<ellipse shape-rendering="crispEdges" cx="113.5" cy="492" rx="15" ry="7.5" fill="#cceeff" stroke="#000" stroke-width="1"/>
<ellipse shape-rendering="crispEdges" cx="227.5" cy="171" rx="15" ry="7.5" fill="#cceeff" stroke="#000" stroke-width="1"/>
<ellipse shape-rendering="crispEdges" cx="302.5" cy="247" rx="15" ry="7.5" fill="#cceeff" stroke="#000" stroke-width="1"/>
<ellipse shape-rendering="crispEdges" cx="302.5" cy="303" rx="15" ry="7.5" fill="#cceeff" stroke="#000" stroke-width="1"/>
<ellipse shape-rendering="crispEdges" cx="302.5" cy="360" rx="15" ry="7.5" fill="#cceeff" stroke="#000" stroke-width="1"/>
<ellipse shape-rendering="crispEdges" cx="302.5" cy="417" rx="15" ry="7.5" fill="#cceeff" stroke="#000" stroke-width="1"/>
<ellipse shape-rendering="crispEdges" cx="302.5" cy="492" rx="15" ry="7.5" fill="#cceeff" stroke="#000" stroke-width="1"/>
<ellipse shape-rendering="crispEdges" cx="397.5" cy="171" rx="15" ry="7.5" fill="#cceeff" stroke="#000" stroke-width="1"/>
<ellipse shape-rendering="crispEdges" cx="472.5" cy="247" rx="15" ry="7.5" fill="#cceeff" stroke="#000" stroke-width="1"/>
<ellipse shape-rendering="crispEdges" cx="472.5" cy="303" rx="15" ry="7.5" fill="#cceeff" stroke="#000" stroke-width="1"/>
<ellipse shape-rendering="crispEdges" cx="472.5" cy="360" rx="15" ry="7.5" fill="#cceeff" stroke="#000" stroke-width="1"/>
<ellipse shape-rendering="crispEdges" cx="472.5" cy="417" rx="15" ry="7.5" fill="#cceeff" stroke="#000" stroke-width="1"/>
<ellipse shape-rendering="crispEdges" cx="472.5" cy="492" rx="15" ry="7.5" fill="#cceeff" stroke="#000" stroke-width="1"/>
<ellipse shape-rendering="crispEdges" cx="567.5" cy="171" rx="15" ry="7.5" fill="#cceeff" stroke="#000" stroke-width="1"/>
<ellipse shape-rendering="crispEdges" cx="643.5" cy="247" rx="15" ry="7.5" fill="#cceeff" stroke="#000" stroke-width="1"/>
<ellipse shape-rendering="crispEdges" cx="643.5" cy="303" rx="15" ry="7.5" fill="#cceeff" stroke="#000" stroke-width="1"/>
<ellipse shape-rendering="crispEdges" cx="643.5" cy="360" rx="15" ry="7.5" fill="#cceeff" stroke="#000" stroke-width="1"/>
<ellipse shape-rendering="crispEdges" cx="643.5" cy="417" rx="15" ry="7.5" fill="#cceeff" stroke="#000" stroke-width="1"/>
<ellipse shape-rendering="crispEdges" cx="643.5" cy="492" rx="15" ry="7.5" fill="#cceeff" stroke="#000" stroke-width="1"/>
<g font-family="Liberation Sans" font-size="13.5" fill="#000">
<text x="265.50" y="62" textLength="109.56" lengthAdjust="spacingAndGlyphs">BPaaS References</text>
<text x="262.50" y="78" textLength="116.86" lengthAdjust="spacingAndGlyphs">and Common Terms</text>
<text x="22.00" y="194" textLength="30.52" lengthAdjust="spacingAndGlyphs">Tools</text>
<text x="189.50" y="194" textLength="75.39" lengthAdjust="spacingAndGlyphs">Technologies</text>
<text x="341.50" y="194" textLength="112.13" lengthAdjust="spacingAndGlyphs">Objects (Concepts)</text>
<text x="511.50" y="194" textLength="111.39" lengthAdjust="spacingAndGlyphs">Subjects (User and</text>
<text x="549.00" y="211" textLength="37.59" lengthAdjust="spacingAndGlyphs">Roles)</text>
<text x="92.50" y="270" textLength="41.01" lengthAdjust="spacingAndGlyphs">BPaaS</text>
<text x="60.00" y="327" textLength="105.30" lengthAdjust="spacingAndGlyphs">Business Process</text>
<text x="75.50" y="343" textLength="74.37" lengthAdjust="spacingAndGlyphs">Management</text>
<text x="50.00" y="383" textLength="128.57" lengthAdjust="spacingAndGlyphs">Distributed Computing</text>
<text x="87.50" y="440" textLength="50.42" lengthAdjust="spacingAndGlyphs">Software</text>
<text x="64.50" y="456" textLength="97.70" lengthAdjust="spacingAndGlyphs">development and</text>
<text x="87.50" y="473" textLength="51.84" lengthAdjust="spacingAndGlyphs">operation</text>
<text x="67.50" y="516" textLength="93.48" lengthAdjust="spacingAndGlyphs">Onotologies and</text>
<text x="81.50" y="532" textLength="62.02" lengthAdjust="spacingAndGlyphs">Semantics</text>
<text x="280.00" y="270" textLength="41.01" lengthAdjust="spacingAndGlyphs">BPaaS</text>
<text x="249.00" y="327" textLength="105.68" lengthAdjust="spacingAndGlyphs">Business Process</text>
<text x="262.50" y="343" textLength="74.78" lengthAdjust="spacingAndGlyphs">Management</text>
<text x="270.25" y="383" textLength="62.51" lengthAdjust="spacingAndGlyphs">Distributed</text>
<text x="271.25" y="400" textLength="60.26" lengthAdjust="spacingAndGlyphs">computing</text>
<text x="276.50" y="440" textLength="50.29" lengthAdjust="spacingAndGlyphs">Software</text>
<text x="254.00" y="456" textLength="96.76" lengthAdjust="spacingAndGlyphs">development and</text>
<text x="274.00" y="473" textLength="52.61" lengthAdjust="spacingAndGlyphs">operation</text>
<text x="255.00" y="516" textLength="93.93" lengthAdjust="spacingAndGlyphs">Onotologies and</text>
<text x="269.00" y="532" textLength="61.61" lengthAdjust="spacingAndGlyphs">Semantics</text>
<text x="447.50" y="270" textLength="40.84" lengthAdjust="spacingAndGlyphs">BPaaS</text>
<text x="420.00" y="327" textLength="105.30" lengthAdjust="spacingAndGlyphs">Business Process</text>
<text x="430.25" y="343" textLength="74.58" lengthAdjust="spacingAndGlyphs">Management</text>
<text x="440.25" y="383" textLength="62.51" lengthAdjust="spacingAndGlyphs">Distributed</text>
<text x="439.00" y="400" textLength="60.87" lengthAdjust="spacingAndGlyphs">computing</text>
<text x="446.50" y="440" textLength="50.29" lengthAdjust="spacingAndGlyphs">Software</text>
<text x="424.00" y="456" textLength="96.76" lengthAdjust="spacingAndGlyphs">development and</text>
<text x="442.50" y="473" textLength="52.29" lengthAdjust="spacingAndGlyphs">operation</text>
<text x="426.50" y="516" textLength="93.72" lengthAdjust="spacingAndGlyphs">Onotologies and</text>
<text x="437.50" y="532" textLength="62.02" lengthAdjust="spacingAndGlyphs">Semantics</text>
<text x="615.25" y="270" textLength="42.07" lengthAdjust="spacingAndGlyphs">BPaaS</text>
<text x="590.00" y="327" textLength="105.30" lengthAdjust="spacingAndGlyphs">Business Process</text>
<text x="599.00" y="343" textLength="74.43" lengthAdjust="spacingAndGlyphs">Management</text>
<text x="611.50" y="383" textLength="62.30" lengthAdjust="spacingAndGlyphs">Distributed</text>
<text x="607.50" y="400" textLength="59.86" lengthAdjust="spacingAndGlyphs">computing</text>
<text x="617.50" y="440" textLength="49.47" lengthAdjust="spacingAndGlyphs">Software</text>
<text x="594.00" y="456" textLength="96.76" lengthAdjust="spacingAndGlyphs">development and</text>
<text x="610.00" y="473" textLength="52.70" lengthAdjust="spacingAndGlyphs">operation</text>
<text x="596.50" y="516" textLength="93.72" lengthAdjust="spacingAndGlyphs">Onotologies and</text>
<text x="606.50" y="532" textLength="61.61" lengthAdjust="spacingAndGlyphs">Semantics</text>
</g></svg></body></html>
